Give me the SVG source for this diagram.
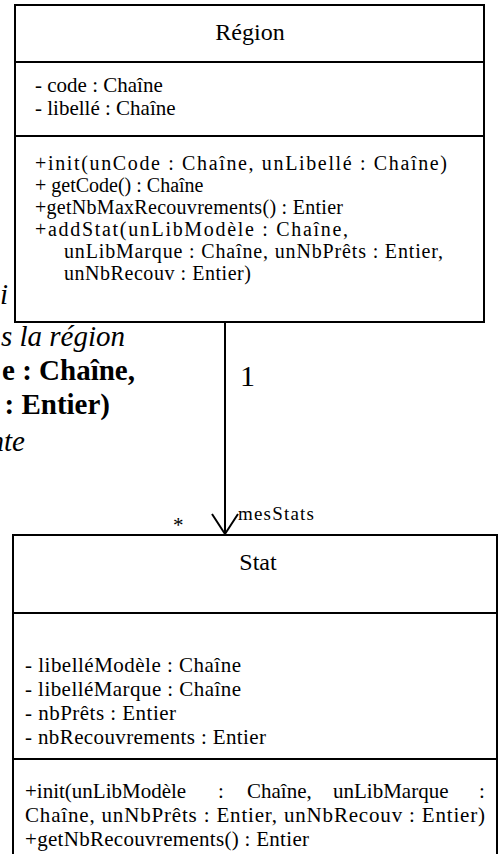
<svg xmlns="http://www.w3.org/2000/svg" width="499" height="854" viewBox="0 0 499 854">
<style>
.box{fill:#fff;stroke:#000;stroke-width:2}
.sep{stroke:#000;stroke-width:2}
.t{font-family:"Liberation Serif","Times New Roman",serif;font-size:21px;fill:#000}
.m{font-family:"Liberation Serif","Times New Roman",serif;font-size:20px;fill:#000}
.title{font-family:"Liberation Serif","Times New Roman",serif;font-size:24px;fill:#000;text-anchor:middle}
.bgi{font-family:"Liberation Serif","Times New Roman",serif;font-size:29px;font-style:italic;fill:#000;text-anchor:end}
.bgb{font-family:"Liberation Serif","Times New Roman",serif;font-size:29px;font-weight:bold;fill:#000;text-anchor:end}
.conn{stroke:#000;stroke-width:2;fill:none}
</style>
<rect width="499" height="854" fill="#fff"/>
<g id="background-text">
<text class="bgi" x="8" y="304">i</text>
<text class="bgi" x="125" y="346">s la région</text>
<text class="bgb" x="135" y="380">e : Chaîne,</text>
<text class="bgb" x="110" y="414">: Entier)</text>
<text class="bgi" x="25" y="451">nte</text>
</g>
<g id="region">
<rect class="box" x="15" y="5" width="469" height="317"/>
<line class="sep" x1="15" y1="62" x2="484" y2="62"/>
<line class="sep" x1="15" y1="136" x2="484" y2="136"/>
<text class="title" x="250" y="40">Région</text>
<text class="t" x="35" y="92">- code : Chaîne</text>
<text class="t" x="35" y="115">- libellé : Chaîne</text>
<text class="m" x="35" y="170" textLength="412">+init(unCode : Chaîne, unLibellé : Chaîne)</text>
<text class="m" x="35" y="192">+ getCode() : Chaîne</text>
<text class="m" x="35" y="214" textLength="308">+getNbMaxRecouvrements() : Entier</text>
<text class="m" x="35" y="236" textLength="313">+addStat(unLibModèle : Chaîne,</text>
<text class="m" x="64" y="258" textLength="379">unLibMarque : Chaîne, unNbPrêts : Entier,</text>
<text class="m" x="64" y="280" textLength="187">unNbRecouv : Entier)</text>
</g>
<g id="stat">
<rect class="box" x="13" y="535" width="484" height="330"/>
<line class="sep" x1="13" y1="613" x2="497" y2="613"/>
<line class="sep" x1="13" y1="759" x2="497" y2="759"/>
<text class="title" x="258" y="570">Stat</text>
<text class="t" x="25" y="672" textLength="216">- libelléModèle : Chaîne</text>
<text class="t" x="25" y="696" textLength="216">- libelléMarque : Chaîne</text>
<text class="t" x="25" y="720" textLength="151">- nbPrêts : Entier</text>
<text class="t" x="25" y="744" textLength="241">- nbRecouvrements : Entier</text>
<text class="t" y="798"><tspan x="25">+init(unLibModèle</tspan><tspan x="218">:</tspan><tspan x="247">Chaîne,</tspan><tspan x="333">unLibMarque</tspan><tspan x="479">:</tspan></text>
<text class="t" x="25" y="822" textLength="460">Chaîne, unNbPrêts : Entier, unNbRecouv : Entier)</text>
<text class="t" x="25" y="846" textLength="284">+getNbRecouvrements() : Entier</text>
</g>
<g id="connectors">
<line class="conn" x1="225" y1="322" x2="225" y2="534"/>
<polyline class="conn" points="212,514 225,534 238,514"/>
<text class="t" x="240" y="386" style="font-size:30px">1</text>
<text class="t" x="173" y="532">*</text>
<text class="t" x="238" y="520" style="font-size:19px" textLength="76">mesStats</text>
</g>
</svg>
